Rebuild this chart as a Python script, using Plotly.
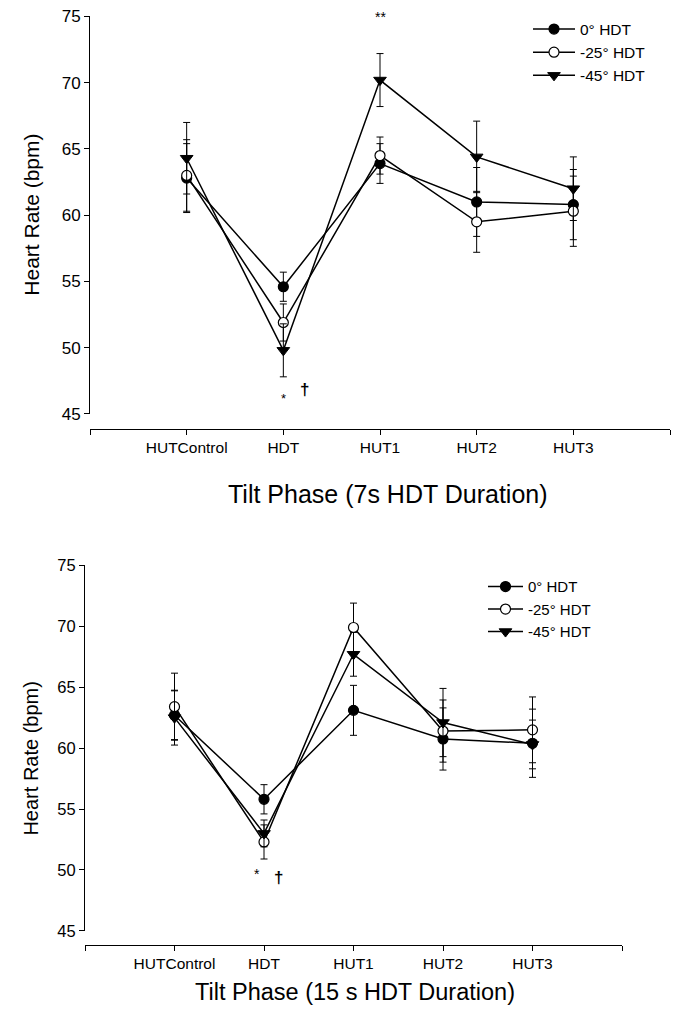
import plotly.graph_objects as go

phases = ["HUTControl", "HDT", "HUT1", "HUT2", "HUT3"]
series_names = ["0° HDT", "-25° HDT", "-45° HDT"]

# Top panel: 7 s HDT duration
top_0 = [62.8, 54.6, 63.9, 61.0, 60.8]
top_0_se = [2.6, 1.1, 1.5, 2.6, 2.65]
top_25 = [63.0, 51.9, 64.5, 59.5, 60.3]
top_25_se = [2.7, 1.4, 1.4, 2.3, 2.65]
top_45 = [64.3, 49.8, 70.2, 64.4, 62.0]
top_45_se = [2.7, 2.0, 2.0, 2.7, 2.4]

# Bottom panel: 15 s HDT duration
bot_0 = [62.7, 55.8, 63.1, 60.75, 60.4]
bot_0_se = [2.0, 1.2, 2.05, 2.55, 2.8]
bot_25 = [63.4, 52.3, 69.9, 61.4, 61.5]
bot_25_se = [2.75, 1.4, 2.0, 2.55, 2.7]
bot_45 = [62.5, 53.0, 67.7, 62.1, 60.3]
bot_45_se = [2.25, 1.1, 1.8, 2.8, 2.0]

y_ticks = [45, 50, 55, 60, 65, 70, 75]

W, H = 677, 1009
FONT = "Liberation Sans, Arial, sans-serif"

def px_x(p):
    return p / W

def px_y(p):
    # target pixel row -> paper coordinate (with small vertical calibration)
    q = (p - 7.5) / 0.985
    return 1 - q / H

xpos = list(range(len(phases)))

styles = [
    dict(symbol="circle", color="black", line=dict(color="black", width=1.2), size=10),
    dict(symbol="circle", color="white", line=dict(color="black", width=1.2), size=10),
    dict(symbol="triangle-down", color="black", line=dict(color="black", width=1), size=11),
]

fig = go.Figure()

def add_panel(vals, ses, xa, ya, legend):
    for name, v, se, st in zip(series_names, vals, ses, styles):
        fig.add_trace(go.Scatter(
            x=xpos, y=v, name=name, mode="lines+markers",
            xaxis=xa, yaxis=ya, legend=legend,
            line=dict(color="black", width=1.5),
            marker=st,
            error_y=dict(type="data", array=se, visible=True, color="black",
                         thickness=1, width=3.5),
        ))

add_panel([top_0, top_25, top_45], [top_0_se, top_25_se, top_45_se], "x", "y", "legend")
add_panel([bot_0, bot_25, bot_45], [bot_0_se, bot_25_se, bot_45_se], "x2", "y2", "legend2")

tickvals_x = [-1] + xpos + [len(phases)]
ticktext_x = [""] + phases + [""]

axis_common = dict(showgrid=False, zeroline=False, showline=True, linecolor="black",
                   linewidth=1, ticks="outside", tickcolor="black", ticklen=5, tickwidth=1,
                   tickfont=dict(family=FONT, size=15.5, color="black"))

fig.update_layout(
    width=W, height=H,
    margin=dict(l=0, r=0, t=0, b=0),
    paper_bgcolor="white", plot_bgcolor="white",
    font=dict(family=FONT, color="black"),
    xaxis=dict(axis_common, domain=[px_x(90), px_x(670)], range=[-1, 5],
               tickvals=tickvals_x, ticktext=ticktext_x,
               anchor="free", position=px_y(429)),
    yaxis=dict(axis_common, domain=[px_y(414), px_y(15)], range=[45, 75],
               tickvals=y_ticks, anchor="x", tickfont=dict(family=FONT, size=17, color="black")),
    xaxis2=dict(axis_common, domain=[px_x(85), px_x(622)], range=[-1, 5],
                tickvals=tickvals_x, ticktext=ticktext_x,
                anchor="free", position=px_y(947)),
    yaxis2=dict(axis_common, domain=[px_y(933), px_y(566)], range=[45, 75],
                tickvals=y_ticks, anchor="x2", tickfont=dict(family=FONT, size=16.5, color="black")),
    legend=dict(x=px_x(528), y=px_y(11), xanchor="left", yanchor="top",
                font=dict(family=FONT, size=15.5, color="black"),
                bgcolor="rgba(0,0,0,0)", tracegroupgap=0, itemwidth=42),
    legend2=dict(x=px_x(483), y=px_y(571), xanchor="left", yanchor="top",
                 font=dict(family=FONT, size=15, color="black"),
                 bgcolor="rgba(0,0,0,0)", tracegroupgap=0, itemwidth=35),
)

def a(text, x, y, size, xref="paper", yref="paper", angle=0):
    return dict(text=text, x=x, y=y, xref=xref, yref=yref, textangle=angle,
                xanchor="center", yanchor="middle", showarrow=False,
                font=dict(family=FONT, size=size, color="black"))

ann = [
    a("Heart Rate (bpm)", px_x(32), px_y(214), 21, angle=-90),
    a("Heart Rate (bpm)", px_x(31), px_y(760), 20, angle=-90),
    a("Tilt Phase (7s HDT Duration)", px_x(388), px_y(494), 25),
    a("Tilt Phase (15 s HDT Duration)", px_x(355), px_y(994), 23.5),
    # significance markers
    a("**", 2, 74.95, 14, "x", "y"),
    a("*", 1, 46.2, 13, "x", "y"),
    a("<b>†</b>", 1.22, 46.85, 17, "x", "y"),
    a("*", 0.92, 49.65, 14, "x2", "y2"),
    a("<b>†</b>", 1.16, 49.4, 17, "x2", "y2"),
]
fig.update_layout(annotations=ann)

fig.write_html("out.html", config={"displayModeBar": False},
               post_script="document.body.style.margin='0';")
